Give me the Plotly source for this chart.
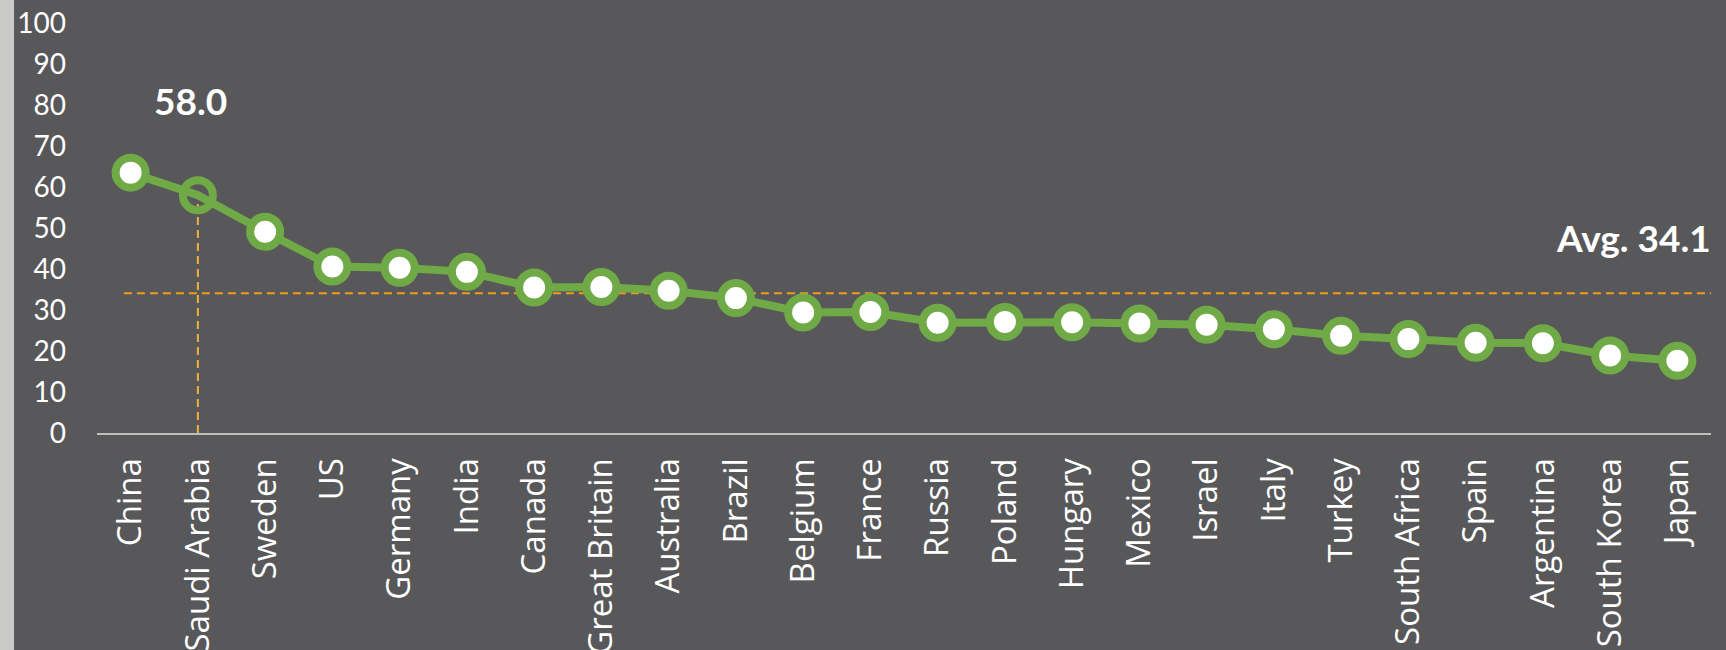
import plotly.graph_objects as go

# Index score by country, sorted high to low
countries = ["China", "Saudi Arabia", "Sweden", "US", "Germany", "India", "Canada",
             "Great Britain", "Australia", "Brazil", "Belgium", "France", "Russia",
             "Poland", "Hungary", "Mexico", "Israel", "Italy", "Turkey", "South Africa",
             "Spain", "Argentina", "South Korea", "Japan"]
scores = [63.5, 58.0, 49.1, 40.6, 40.3, 39.3, 35.5, 35.6, 34.7, 32.9, 29.4, 29.5,
          26.9, 27.1, 27.0, 26.7, 26.4, 25.3, 23.7, 22.9, 22.0, 21.9, 18.9, 17.6]
y_ticks = [0, 10, 20, 30, 40, 50, 60, 70, 80, 90, 100]

highlight = "Saudi Arabia"
average = 34.1

W, H = 1726, 650
M_L, M_R, M_T, M_B = 97, 15, 23, 217
plot_w = W - M_L - M_R
plot_h = H - M_T - M_B

BG = "#58585A"
GREEN = "#6FAA47"
hi_idx = countries.index(highlight)
hi_val = scores[hi_idx]

fill_colors = ["rgba(0,0,0,0)" if c == highlight else "white" for c in countries]

fig = go.Figure()
fig.add_trace(go.Scatter(
    x=countries, y=scores, mode="lines+markers",
    line=dict(color=GREEN, width=8),
    marker=dict(size=30, color=fill_colors, line=dict(color=GREEN, width=8)),
    cliponaxis=False, hoverinfo="x+y",
))

shapes = [
    # light strip at the left edge
    dict(type="rect", xref="paper", yref="paper", layer="below",
         x0=-M_L / plot_w, x1=(14 - M_L) / plot_w,
         y0=-M_B / plot_h, y1=1 + M_T / plot_h,
         fillcolor="#C9C9C7", line=dict(width=0)),
    # drop line under the highlighted country
    dict(type="line", xref="x", yref="y", layer="below",
         x0=hi_idx, x1=hi_idx, y0=0, y1=hi_val,
         line=dict(color="#ECB13F", width=2, dash="8px,5px")),
    # average line
    dict(type="line", xref="x", yref="y", layer="below",
         x0=-0.1, x1=len(countries) - 0.5, y0=average, y1=average,
         line=dict(color="#F29B1B", width=2, dash="8px,5px")),
]

annotations = [
    dict(x=hi_idx, y=81, xref="x", yref="y", xshift=-7,
         text=f"<b>{hi_val:.1f}</b>", showarrow=False,
         font=dict(family="Lato", size=37, color="white")),
    dict(x=1, y=47.6, xref="paper", yref="y", xanchor="right", xshift=2,
         text=f"<b>Avg. {average:.1f}</b>", showarrow=False,
         font=dict(family="Lato", size=37, color="white")),
]

fig.update_layout(
    width=W, height=H,
    margin=dict(l=M_L, r=M_R, t=M_T, b=M_B, autoexpand=False),
    paper_bgcolor=BG, plot_bgcolor=BG,
    showlegend=False,
    shapes=shapes, annotations=annotations,
    xaxis=dict(
        type="category", range=[-0.5, len(countries) - 0.5],
        tickangle=-90, showgrid=False, zeroline=False,
        showline=True, linecolor="#BFBFBF", linewidth=2,
        ticks="", ticklabelstandoff=10,
        tickfont=dict(family="Open Sans", size=33, color="white"),
        automargin=False,
    ),
    yaxis=dict(
        range=[0, 100], tickvals=y_ticks, showgrid=False, zeroline=False,
        showline=False, ticks="", ticklabelstandoff=30,
        tickfont=dict(family="Lato", size=28, color="white"),
        automargin=False,
    ),
)

fig.write_html("out.html")
